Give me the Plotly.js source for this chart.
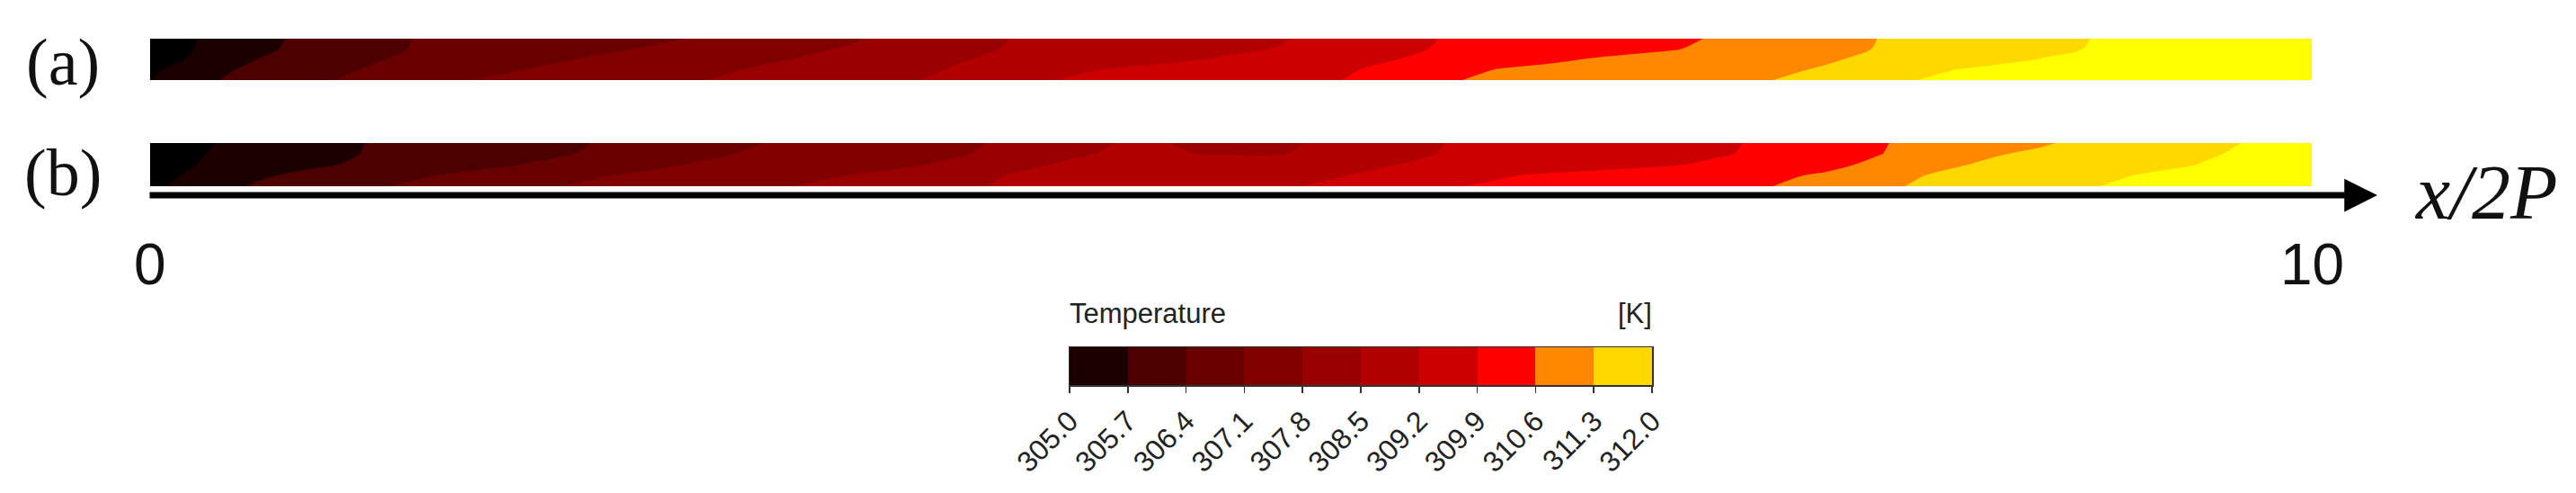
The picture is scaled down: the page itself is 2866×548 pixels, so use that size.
<!DOCTYPE html>
<html>
<head>
<meta charset="utf-8">
<script src="https://cdn.plot.ly/plotly-3.0.1.min.js"></script>
<style>
html, body { margin: 0; padding: 0; background: #ffffff; }
#chart { width: 2866px; height: 548px; }
</style>
</head>
<body>
<div id="chart"></div>
<script>
// ---------------- DATA ----------------
// streamwise position x/2P of the sample columns
const xPos = [0, 0.25, 0.5, 0.75, 1, 1.25, 1.5, 1.75, 2, 2.25, 2.5, 2.75, 3, 3.25, 3.5, 3.75,
  4, 4.25, 4.5, 4.75, 5, 5.25, 5.5, 5.75, 6, 6.25, 6.5, 6.75, 7, 7.25, 7.5, 7.75,
  8, 8.25, 8.5, 8.75, 9, 9.25, 9.5, 9.75, 10];
// normalised height across the strip (0 = bottom wall, 1 = top)
const yPos = [0, 0.25, 0.5, 0.75, 1];

// (a) temperature field [K], one row per height
const tempA_bottom = [304.98,305.60,305.96,306.28,306.56,306.83,307.11,307.26,307.43,307.59,307.75,307.92,308.10,308.27,308.44,308.71,309.02,309.25,309.38,309.50,309.63,309.75,309.88,310.20,310.56,310.70,310.82,310.94,311.05,311.17,311.29,311.55,311.84,312.06,312.18,312.31,312.43,312.56,312.68,312.81,312.93];
const tempA_q1 = [304.86,305.46,305.87,306.16,306.44,306.67,306.90,307.12,307.29,307.46,307.63,307.81,307.99,308.17,308.36,308.56,308.82,309.09,309.28,309.41,309.55,309.68,309.82,310.03,310.37,310.64,310.75,310.86,310.98,311.09,311.20,311.35,311.64,311.93,312.10,312.22,312.35,312.47,312.60,312.72,312.85];
const tempA_mid = [304.66,305.19,305.71,306.01,306.32,306.54,306.74,306.93,307.13,307.30,307.48,307.65,307.83,308.04,308.26,308.47,308.63,308.79,308.95,309.11,309.29,309.49,309.69,309.88,310.10,310.31,310.52,310.69,310.83,310.97,311.11,311.24,311.42,311.63,311.83,312.02,312.15,312.27,312.40,312.52,312.65];
const tempA_q3 = [304.62,305.09,305.57,305.92,306.22,306.46,306.62,306.78,306.94,307.11,307.29,307.48,307.67,307.88,308.12,308.36,308.56,308.69,308.83,308.96,309.09,309.25,309.51,309.77,309.97,310.12,310.26,310.40,310.54,310.72,310.93,311.13,311.33,311.51,311.69,311.87,312.04,312.16,312.29,312.41,312.54];
const tempA_top = [304.59,305.06,305.52,305.88,306.18,306.44,306.57,306.71,306.84,306.98,307.12,307.33,307.54,307.74,308.00,308.27,308.52,308.65,308.78,308.91,309.04,309.17,309.42,309.70,309.94,310.08,310.21,310.35,310.49,310.64,310.86,311.08,311.31,311.48,311.66,311.84,312.02,312.14,312.27,312.39,312.52];

// (b) temperature field [K], one row per height
const tempB_bottom = [304.84,305.37,305.79,306.04,306.30,306.53,306.75,306.98,307.17,307.33,307.49,307.65,307.81,308.01,308.22,308.42,308.57,308.68,308.80,308.91,309.03,309.14,309.33,309.59,309.85,310.00,310.11,310.23,310.35,310.47,310.59,310.88,311.19,311.42,311.61,311.80,311.99,312.12,312.25,312.37,312.50];
const tempB_q1 = [304.77,305.18,305.60,305.88,306.11,306.34,306.56,306.78,306.99,307.18,307.34,307.49,307.65,307.82,308.08,308.34,308.54,308.64,308.75,308.85,308.96,309.06,309.17,309.37,309.61,309.85,310.01,310.13,310.25,310.38,310.50,310.67,311.04,311.35,311.53,311.71,311.89,312.05,312.18,312.30,312.43];
const tempB_mid = [304.77,305.04,305.32,305.59,305.82,306.02,306.22,306.43,306.67,306.92,307.13,307.28,307.42,307.57,307.71,307.96,308.37,308.57,308.67,308.78,308.88,308.98,309.09,309.19,309.32,309.45,309.58,309.70,309.83,310.01,310.23,310.45,310.73,311.14,311.39,311.55,311.71,311.87,312.02,312.15,312.27];
const tempB_q3 = [304.74,304.99,305.24,305.49,305.73,305.90,306.07,306.25,306.43,306.67,306.92,307.14,307.29,307.44,307.59,307.75,308.04,308.42,308.59,308.52,308.46,308.49,308.80,309.05,309.24,309.36,309.48,309.60,309.72,309.84,310.03,310.30,310.58,310.90,311.22,311.43,311.60,311.77,311.95,312.09,312.21];
const tempB_top = [304.70,304.95,305.20,305.45,305.71,305.87,306.03,306.20,306.36,306.58,306.81,307.04,307.22,307.38,307.54,307.70,307.91,308.23,308.55,308.49,308.42,308.44,308.62,308.92,309.21,309.33,309.45,309.57,309.69,309.82,309.99,310.27,310.55,310.83,311.11,311.22,311.54,311.71,311.89,312.05,312.18];

// legend levels [K] and labels
const levels = [305.0, 305.7, 306.4, 307.1, 307.8, 308.5, 309.2, 309.9, 310.6, 311.3, 312.0];
const levelLabels = ['305.0','305.7','306.4','307.1','307.8','308.5','309.2','309.9','310.6','311.3','312.0'];
const bandMid = [305.35, 306.05, 306.75, 307.45, 308.15, 308.85, 309.55, 310.25, 310.95, 311.65];

// colours: below range, 10 bands, above range
const belowColor = '#000000';
const bandColors = ['#1c0000','#4c0000','#680000','#800000','#990000','#b20000','#cc0000','#ff0000','#ff8800','#ffd800'];
const aboveColor = '#ffff00';

const xTickVals = [0, 10];
const xTickText = ['0', '10'];

// ---------------- LAYOUT HELPERS ----------------
const W = 2866, H = 548, ML = 167, MR = 294;
const px2x = p => (p - ML) / (W - ML - MR);
const py2y = p => 1 - p / H;

// contour fill scale: 12 colours evaluated at k/11
const fillColors = [belowColor].concat(bandColors, [aboveColor]);
const nF = fillColors.length - 1;
const fillScale = [];
fillColors.forEach((c, k) => {
  fillScale.push([Math.max(0, (k - 0.5) / nF), c]);
  fillScale.push([Math.min(1, (k + 0.5) / nF), c]);
});
// legend bar scale: 10 equal steps
const barScale = [];
bandColors.forEach((c, k) => {
  barScale.push([k / bandColors.length, c]);
  barScale.push([(k + 1) / bandColors.length, c]);
});

const contourCommon = {
  type: 'contour', x: xPos, y: yPos,
  autocontour: false,
  contours: { start: levels[0], end: levels[levels.length - 1], size: 0.7, coloring: 'fill', showlines: false },
  line: { width: 0, smoothing: 0.8 },
  colorscale: fillScale, showscale: false, hoverinfo: 'skip'
};

const traces = [
  Object.assign({}, contourCommon, { z: [tempA_bottom, tempA_q1, tempA_mid, tempA_q3, tempA_top], xaxis: 'x', yaxis: 'y' }),
  Object.assign({}, contourCommon, { z: [tempB_bottom, tempB_q1, tempB_mid, tempB_q3, tempB_top], xaxis: 'x', yaxis: 'y2' }),
  { type: 'heatmap', x: levels, y: [0, 1], z: [bandMid], xaxis: 'x3', yaxis: 'y3',
    colorscale: barScale, zmin: levels[0], zmax: levels[levels.length - 1], showscale: false, hoverinfo: 'skip' }
];

const hidden = { visible: false, showgrid: false, zeroline: false, fixedrange: true };
const sans = 'Liberation Sans, Arial, sans-serif';
const serif = 'Liberation Serif, Times New Roman, serif';

const annotations = [
  { text: '(a)', xref: 'paper', yref: 'paper', x: px2x(70), y: py2y(69), xanchor: 'center', yanchor: 'middle',
    showarrow: false, font: { family: serif, size: 74, color: '#111' } },
  { text: '(b)', xref: 'paper', yref: 'paper', x: px2x(70), y: py2y(192), xanchor: 'center', yanchor: 'middle',
    showarrow: false, font: { family: serif, size: 74, color: '#111' } },
  { text: '', xref: 'paper', yref: 'paper', x: px2x(2645), y: py2y(217), axref: 'pixel', ax: -(2645 - 165), ayref: 'pixel', ay: 0,
    showarrow: true, arrowhead: 2, arrowsize: 1.05, arrowwidth: 7, arrowcolor: '#000', standoff: 0 },
  { text: '<i>x/2P</i>', xref: 'paper', yref: 'paper', x: px2x(2684), y: py2y(214), xanchor: 'left', yanchor: 'middle',
    showarrow: false, font: { family: serif, size: 86, color: '#111' } },
  { text: 'Temperature', xref: 'paper', yref: 'paper', x: px2x(1188), y: py2y(348), xanchor: 'left', yanchor: 'middle',
    showarrow: false, font: { family: sans, size: 31, color: '#222' } },
  { text: '[K]', xref: 'paper', yref: 'paper', x: px2x(1840), y: py2y(348), xanchor: 'right', yanchor: 'middle',
    showarrow: false, font: { family: sans, size: 31, color: '#222' } }
];
xTickVals.forEach((v, i) => annotations.push({
  text: xTickText[i], xref: 'x', yref: 'paper', x: v, y: py2y(294), xanchor: 'center', yanchor: 'middle',
  showarrow: false, font: { family: sans, size: 64, color: '#111' } }));

const layout = {
  width: W, height: H,
  margin: { l: ML, r: MR, t: 0, b: 0, pad: 0 },
  paper_bgcolor: '#ffffff', plot_bgcolor: '#ffffff',
  showlegend: false,
  xaxis: Object.assign({}, hidden, { range: [0, 10], anchor: 'y2', domain: [0, 1] }),
  yaxis: Object.assign({}, hidden, { range: [0, 1], domain: [py2y(89), py2y(43)], anchor: 'x' }),
  yaxis2: Object.assign({}, hidden, { range: [0, 1], domain: [py2y(207), py2y(159)], anchor: 'x' }),
  xaxis3: {
    domain: [px2x(1190), px2x(1838)], anchor: 'y3', range: [levels[0], levels[levels.length - 1]],
    tickmode: 'array', tickvals: levels, ticktext: levelLabels, tickangle: -45,
    ticks: 'outside', ticklen: 7, tickwidth: 1.5, tickcolor: '#333',
    showline: true, linecolor: '#333', linewidth: 1.5, mirror: true,
    showgrid: false, zeroline: false, fixedrange: true,
    tickfont: { family: sans, size: 32, color: '#222' }
  },
  yaxis3: {
    domain: [py2y(428), py2y(386)], anchor: 'x3', range: [0, 1],
    showline: true, linecolor: '#333', linewidth: 1.5, mirror: true,
    showticklabels: false, ticks: '', showgrid: false, zeroline: false, fixedrange: true
  },
  annotations: annotations
};

Plotly.newPlot('chart', traces, layout, { displayModeBar: false, staticPlot: true });
</script>
</body>
</html>
